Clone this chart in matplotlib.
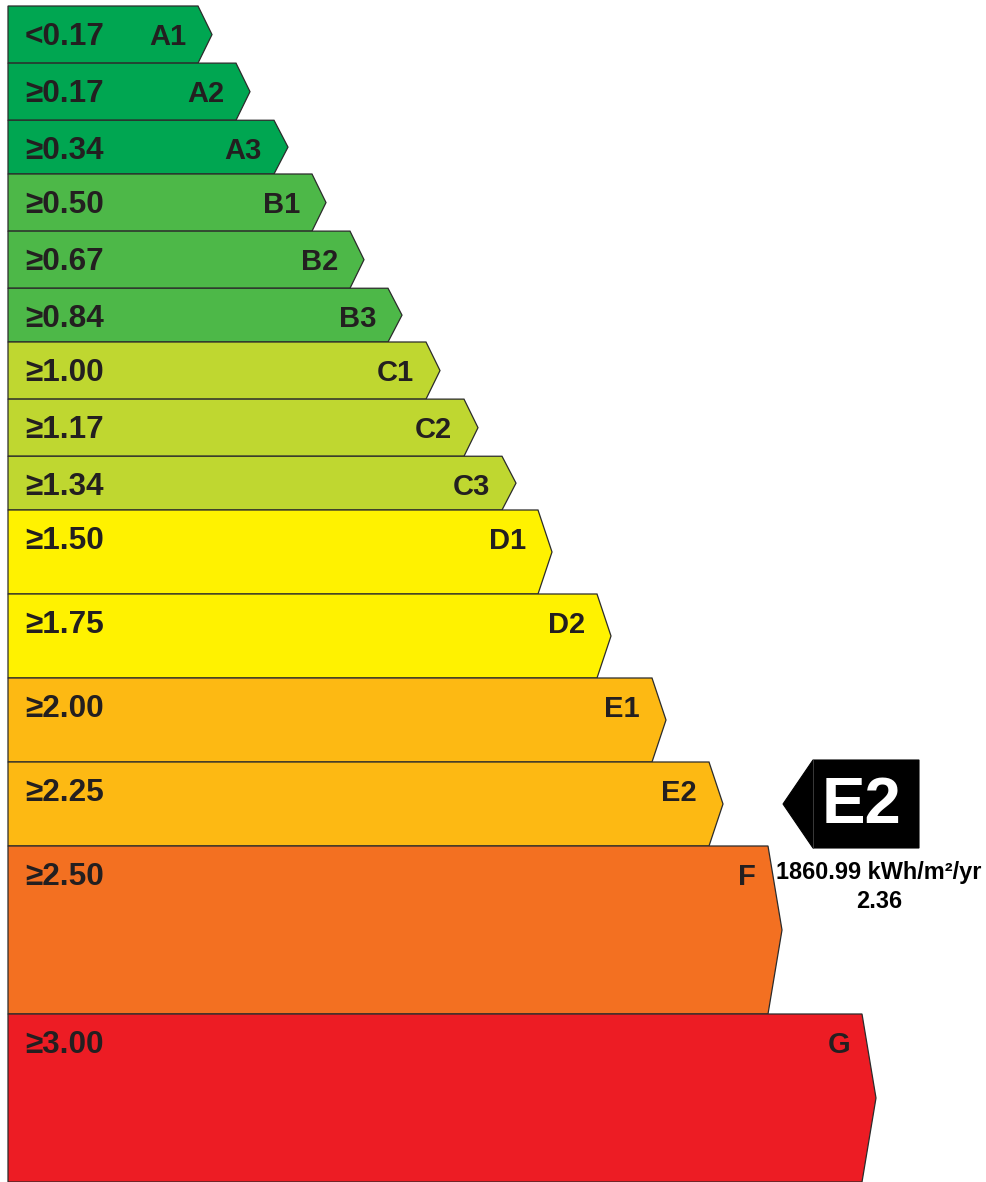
import matplotlib
matplotlib.use("Agg")
import matplotlib.pyplot as plt
from matplotlib.patches import Polygon

plt.rcParams['font.family'] = ['Liberation Sans', 'DejaVu Sans']

# ---- data ----
grades = ['A1', 'A2', 'A3', 'B1', 'B2', 'B3', 'C1', 'C2', 'C3',
          'D1', 'D2', 'E1', 'E2', 'F', 'G']
lower = [0.00, 0.17, 0.34, 0.50, 0.67, 0.84, 1.00, 1.17, 1.34,
         1.50, 1.75, 2.00, 2.25, 2.50, 3.00]
upper = lower[1:] + [3.50]
value_labels = ['<0.17', '≥0.17', '≥0.34', '≥0.50', '≥0.67', '≥0.84',
                '≥1.00', '≥1.17', '≥1.34', '≥1.50', '≥1.75', '≥2.00',
                '≥2.25', '≥2.50', '≥3.00']
# arrow body length of each band (px from left edge)
band_len = [190, 228, 266, 304, 342, 380, 418, 456, 494,
            530, 589, 644, 701, 760, 854]
colors = ['#00A651', '#00A651', '#00A651', '#4DB848', '#4DB848', '#4DB848',
          '#BFD730', '#BFD730', '#BFD730', '#FFF200', '#FFF200',
          '#FDB913', '#FDB913', '#F37021', '#ED1C24']

rating_grade = 'E2'
rating_value = 2.36
energy_use = 1860.99

# ---- layout ----
W, H = 986, 1182
PX_PER_UNIT = 336
TOP = 6
X0 = 8
TIP = 14
TEXT_DARK = '#231F20'

fig = plt.figure(figsize=(W / 100, H / 100), dpi=100)
ax = fig.add_axes([0, 0, 1, 1])
ax.set_xlim(0, W)
ax.set_ylim((H - TOP) / PX_PER_UNIT, -TOP / PX_PER_UNIT)
ax.axis('off')

# x in pixels, y in value units -> tip offset is constant in px
for g, lo, hi, lab, L, c in zip(grades, lower, upper, value_labels, band_len, colors):
    xr = X0 + L
    mid = (lo + hi) / 2
    pts = [(X0, lo), (xr, lo), (xr + TIP, mid), (xr, hi), (X0, hi)]
    ax.add_patch(Polygon(pts, closed=True, facecolor=c, edgecolor='#2b2b2b',
                         linewidth=0.9, joinstyle='miter'))
    ty = lo + 31 / PX_PER_UNIT
    ax.text(X0 + 17, ty, lab, ha='left', va='center', fontsize=22.7,
            fontweight='bold', color=TEXT_DARK)
    ax.text(xr - 12, ty, g, ha='right', va='center', fontsize=21,
            fontweight='bold', color=TEXT_DARK)

# ---- rating marker ----
i = grades.index(rating_grade)
mid = (lower[i] + upper[i]) / 2
half = (upper[i] - lower[i]) / 2 + 2 / PX_PER_UNIT
bx0, bx1, tipx = 813, 919, 783
ax.add_patch(Polygon([(tipx, mid), (bx0, mid - half), (bx1, mid - half),
                      (bx1, mid + half), (bx0, mid + half)], closed=True,
                     facecolor='black', edgecolor='black', linewidth=0.8))
ax.plot([bx0, bx0], [mid - half, mid + half], color='#444444', linewidth=0.6)
ax.text((bx0 + bx1) / 2 - 4, mid + 2 / PX_PER_UNIT, rating_grade, ha='center',
        va='center', fontsize=47, fontweight='bold', color='white')

cx = 879
ax.text(cx, mid + half + 24 / PX_PER_UNIT, f'{energy_use:.2f} kWh/m²/yr',
        ha='center', va='center', fontsize=16.9, fontweight='bold', color='black')
ax.text(cx, mid + half + 53 / PX_PER_UNIT, f'{rating_value:.2f}',
        ha='center', va='center', fontsize=16.9, fontweight='bold', color='black')

fig.savefig('out.png', dpi=100, facecolor='white')
